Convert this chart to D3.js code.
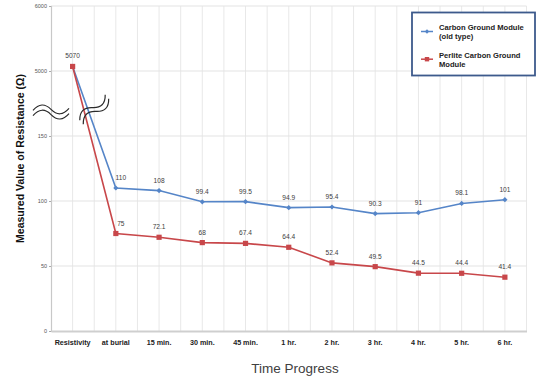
<!DOCTYPE html>
<html><head><meta charset="utf-8">
<script src="https://cdn.jsdelivr.net/npm/d3@7/dist/d3.min.js"></script>
<style>body{margin:0;background:#fff}svg{display:block}</style>
</head><body><svg id="c" width="536" height="380"></svg>
<script>
const categories = ["Resistivity","at burial","15 min.","30 min.","45 min.","1 hr.","2 hr.","3 hr.","4 hr.","5 hr.","6 hr."];
const oldType = [5070,110,108,99.4,99.5,94.9,95.4,90.3,91,98.1,101];
const perlite = [5070,75,72.1,68,67.4,64.4,52.4,49.5,44.5,44.4,41.4];
const yTicks = [0,50,100,150,5000,6000];
const seriesNames = [["Carbon Ground Module","(old type)"],["Perlite Carbon Ground","Module"]];
const colors = ["#5585c8","#c8474a"];

const svg = d3.select("#c");
const L=51, R=526.5, T=6, B=331;
const x = d3.scaleBand().domain(categories).range([L,R]);
const bw = x.bandwidth();
const cx = c => x(c)+bw/2;
// broken axis: 0-150 lower segment, 5000-6000 upper segment
const y = d3.scaleLinear().domain([0,150,5000,6000]).range([B,136,71,T]);

const g = svg.append("g");
const vx = [];
categories.forEach(c=>{vx.push(x(c)); vx.push(cx(c));});
vx.push(R);
g.selectAll(".vg").data(vx.slice(1)).join("line")
  .attr("x1",d=>d).attr("x2",d=>d).attr("y1",T).attr("y2",B)
  .attr("stroke","#e8e8e8").attr("stroke-width",1);
g.selectAll(".hg").data(yTicks.filter(d=>d>0)).join("line")
  .attr("x1",L).attr("x2",R).attr("y1",d=>y(d)).attr("y2",d=>y(d))
  .attr("stroke","#e3e3e3").attr("stroke-width",1);

const yAx = svg.append("g").attr("transform",`translate(${L},0)`)
  .call(d3.axisLeft(y).tickValues(yTicks).tickSize(2).tickPadding(2).tickFormat(d3.format("d")));
yAx.select(".domain").attr("stroke","#c8c8c8").attr("stroke-width",1.2);
yAx.selectAll(".tick line").attr("stroke","#aaa");
yAx.selectAll("text").attr("font-family","Liberation Sans, Arial, sans-serif").attr("font-size",5.5).attr("fill","#555");

const xAx = svg.append("g").attr("transform",`translate(0,${B})`)
  .call(d3.axisBottom(x).tickSize(0).tickPadding(9));
xAx.select(".domain").attr("stroke","#cfcfcf").attr("stroke-width",2);
xAx.selectAll("text").attr("font-family","Liberation Sans, Arial, sans-serif").attr("font-size",7.2)
  .attr("font-weight","bold").attr("fill","#222");

const series = [oldType, perlite];
const line = d3.line().x((d,i)=>cx(categories[i])).y(d=>y(d));
series.forEach((s,k)=>{
  svg.append("path").datum(s).attr("d",line).attr("fill","none")
    .attr("stroke",colors[k]).attr("stroke-width",1.6);
});
svg.selectAll(".m0").data(oldType).join("path")
  .attr("transform",(d,i)=>`translate(${cx(categories[i])},${y(d)})`)
  .attr("d","M0,-2.6L2.6,0L0,2.6L-2.6,0Z").attr("fill",colors[0]);
svg.selectAll(".m1").data(perlite).join("rect")
  .attr("x",(d,i)=>cx(categories[i])-2.6).attr("y",d=>y(d)-2.6)
  .attr("width",5.2).attr("height",5.2).attr("fill",colors[1]);

series.forEach((s,k)=>{
  const items = s.map((v,i)=>({v,i})).filter(d=>!(k===0 && d.i===0));
  svg.selectAll(".lab"+k).data(items).join("text")
    .attr("x",d=>cx(categories[d.i]) + (d.i===1?5:0))
    .attr("y",d=>y(d.v)-8)
    .attr("text-anchor","middle")
    .attr("font-family","Liberation Sans, Arial, sans-serif").attr("font-size",6.6)
    .attr("fill","#404040").text(d=>d.v);
});

const tilde = "M-18,1 C-12,-6 -6,-6 0,0 C6,6 12,6 18,-1";
function brk(px,py,rot){
  const bg = svg.append("g").attr("transform",`translate(${px},${py}) rotate(${rot})`);
  [-2.6,2.6].forEach(o=>{
    bg.append("path").attr("d",tilde).attr("transform",`translate(0,${o})`)
      .attr("fill","none").attr("stroke","#2a2a2a").attr("stroke-width",1.2);
  });
}
const midY = (y(150)+y(5000))/2;
brk(L, midY+8.5, 0);
brk(x(categories[0])+bw, midY+6, -42);

svg.append("text").attr("transform",`translate(24,${(T+B)/2-10}) rotate(-90)`)
  .attr("text-anchor","middle").attr("font-family","Liberation Sans, Arial, sans-serif")
  .attr("font-size",10.5).attr("font-weight","bold").attr("fill","#111")
  .text("Measured Value of Resistance (Ω)");
svg.append("text").attr("x",295).attr("y",373).attr("text-anchor","middle")
  .attr("font-family","Liberation Sans, Arial, sans-serif").attr("font-size",13.5)
  .attr("fill","#404040").text("Time Progress");

const lg = svg.append("g");
lg.append("rect").attr("x",412).attr("y",12.5).attr("width",123).attr("height",63)
  .attr("fill","#fff").attr("stroke","#3d5a8c").attr("stroke-width",1.8);
const ly = [[30,39],[57.7,66.7]];
seriesNames.forEach((nm,k)=>{
  const sy = (ly[k][0]+ly[k][1])/2 - 3;
  lg.append("line").attr("x1",421).attr("x2",433).attr("y1",sy).attr("y2",sy)
    .attr("stroke",colors[k]).attr("stroke-width",1.5);
  if(k===0) lg.append("path").attr("transform",`translate(427,${sy})`).attr("d","M0,-2.2L2.2,0L0,2.2L-2.2,0Z").attr("fill",colors[k]);
  else lg.append("rect").attr("x",424.8).attr("y",sy-2.2).attr("width",4.4).attr("height",4.4).attr("fill",colors[k]);
  nm.forEach((t,j)=>{
    lg.append("text").attr("x",439).attr("y",ly[k][j]).attr("font-family","Liberation Sans, Arial, sans-serif")
      .attr("font-size",7.6).attr("font-weight","bold").attr("fill","#222").text(t);
  });
});
</script></body></html>
